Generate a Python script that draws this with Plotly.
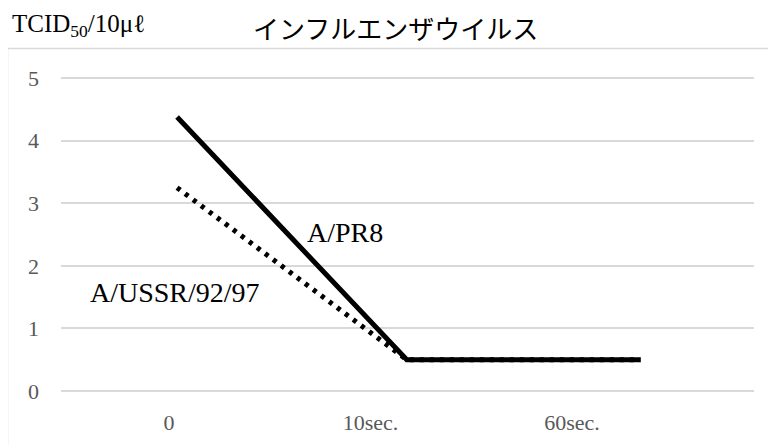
import plotly.graph_objects as go

# Data
categories = ["0", "10sec.", "60sec."]
tick_pos = [0, 1, 2]
line_pos = [0.04, 1.18, 2.34]          # where the drawn line vertices sit on the axis
pr8_values = [4.38, 0.5, 0.5]           # A/PR8 (solid)
ussr_values = [3.25, 0.5, 0.5]          # A/USSR/92/97 (dotted)
y_ticks = [0, 1, 2, 3, 4, 5]

SERIF = "Liberation Serif"
GRID = "#d9d9d9"

# page offset (body margin) compensation
OFF = 8
L, T = 61 - OFF, 49.6 - OFF
PW, PH = 693, 341.4
R = 776 - L - PW
B = 445 - T - PH


def px(xp):
    return (xp - OFF - L) / PW


def py(yp):
    return (T + PH - (yp - OFF)) / PH


fig = go.Figure()
fig.add_trace(go.Scatter(x=line_pos, y=ussr_values, mode="lines",
                         line=dict(color="black", width=5, dash="4px,6px"),
                         showlegend=False, hoverinfo="skip"))
fig.add_trace(go.Scatter(x=line_pos, y=pr8_values, mode="lines",
                         line=dict(color="black", width=5),
                         showlegend=False, hoverinfo="skip"))

fig.update_layout(
    width=776, height=445,
    margin=dict(l=L, r=R, t=T, b=B, pad=0),
    paper_bgcolor="white", plot_bgcolor="white",
    font=dict(family=SERIF, color="#595959", size=22),
    xaxis=dict(range=[-0.536, 2.903], tickvals=tick_pos, ticktext=categories,
               showgrid=False, zeroline=False, showline=False,
               ticklabelstandoff=16, tickfont=dict(family=SERIF, size=22, color="#595959")),
    yaxis=dict(range=[0, 5.45], tickvals=y_ticks, showgrid=True,
               gridcolor=GRID, gridwidth=1.5, zeroline=True, zerolinecolor=GRID,
               zerolinewidth=1.5, showline=False, ticklabelstandoff=21,
               tickfont=dict(family=SERIF, size=22, color="#595959")),
    shapes=[dict(type="rect", xref="paper", yref="paper",
                 x0=px(7.5), x1=1.2, y0=-0.3, y1=py(48),
                 line=dict(color=GRID, width=1.5), fillcolor="rgba(0,0,0,0)",
                 layer="below")],
    annotations=[
        dict(text="TCID<sub>50</sub>/10μℓ", xref="paper", yref="paper",
             x=px(10), y=py(25), xanchor="left", yanchor="middle",
             showarrow=False, font=dict(family=SERIF, size=25, color="black")),
        dict(text="インフルエンザウイルス", xref="paper", yref="paper",
             x=px(395), y=py(27), xanchor="center", yanchor="middle",
             showarrow=False, font=dict(family="Noto Sans CJK JP", size=26, color="black")),
        dict(text="A/PR8", xref="x", yref="y", x=0.873, y=2.54,
             showarrow=False, font=dict(family=SERIF, size=28, color="black")),
        dict(text="A/USSR/92/97", xref="x", yref="y", x=0.03, y=1.58,
             showarrow=False, font=dict(family=SERIF, size=28, color="black")),
    ],
)

fig.write_html("out.html")
